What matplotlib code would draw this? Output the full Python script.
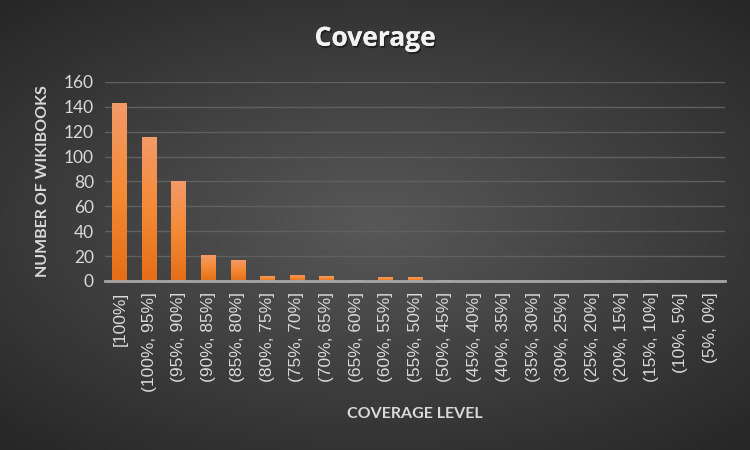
import numpy as np
import matplotlib
matplotlib.use("Agg")
from matplotlib import pyplot as plt
from matplotlib.colors import LinearSegmentedColormap
import matplotlib.patheffects as pe

levels = ["[100%]", "(100%, 95%]", "(95%, 90%]", "(90%, 85%]", "(85%, 80%]",
          "(80%, 75%]", "(75%, 70%]", "(70%, 65%]", "(65%, 60%]", "(60%, 55%]",
          "(55%, 50%]", "(50%, 45%]", "(45%, 40%]", "(40%, 35%]", "(35%, 30%]",
          "(30%, 25%]", "(25%, 20%]", "(20%, 15%]", "(15%, 10%]", "(10%, 5%]",
          "(5%, 0%]"]
counts = [143, 116, 80, 21, 17, 4, 5, 4, 1, 3, 3, 1, 0, 0, 0, 0, 1, 1, 1, 0, 0]

plt.rcParams['font.family'] = ['Lato', 'DejaVu Sans']

fig = plt.figure(figsize=(7.5, 4.5), dpi=100)

# radial background
bg = fig.add_axes([0, 0, 1, 1])
yy, xx = np.mgrid[-1:1:300j, -1:1:500j]
r = np.sqrt((xx * 0.9) ** 2 + (yy * 1.0) ** 2)
bg_cmap = LinearSegmentedColormap.from_list("bg", ["#585858", "#262626"])
bg.imshow(r, cmap=bg_cmap, vmin=0, vmax=1.35, aspect="auto", extent=[0, 1, 0, 1])
bg.set_axis_off()

ax = fig.add_axes([0.14, 0.3756, 0.827, 0.4422])
ax.patch.set_alpha(0)

x = np.arange(len(levels))
bars = ax.bar(x, counts, width=0.5, color="#F07F2A", zorder=3)

# orange gradient inside each bar
grad = np.linspace(0, 1, 100).reshape(-1, 1)
bar_cmap = LinearSegmentedColormap.from_list("bar", ["#E56E17", "#F58A35", "#F39A68"])
for b in bars:
    h = b.get_height()
    if h <= 0:
        continue
    im = ax.imshow(grad, cmap=bar_cmap, aspect="auto", origin="lower",
                   extent=[b.get_x(), b.get_x() + b.get_width(), 0, h], zorder=3)
    im.set_clip_path(b)

ax.set_xlim(-0.5, len(levels) - 0.5)
ax.set_ylim(0, 160)
ax.set_yticks(range(0, 161, 20))
ax.set_xticks(x)
ax.set_xticklabels(levels, rotation=90, fontsize=12.5, color="#D9D9D9",
                   family=['Liberation Sans', 'DejaVu Sans'])
ax.tick_params(axis="y", labelsize=12.5, colors="#D9D9D9", length=0, pad=8)
ax.tick_params(axis="x", length=0, pad=8)
ax.grid(axis="y", color="#606060", linewidth=1, zorder=0)
for s in ["top", "right", "left"]:
    ax.spines[s].set_visible(False)
ax.spines["bottom"].set_color("#A6A6A6")
ax.spines["bottom"].set_linewidth(2)
ax.spines["bottom"].set_zorder(4)

ax.set_ylabel("NUMBER OF WIKIBOOKS", fontsize=11.5, fontweight="bold", color="#D9D9D9", labelpad=10)
fig.text(0.553, 0.08, "COVERAGE LEVEL", ha="center", va="center",
         fontsize=11.5, fontweight="bold", color="#D9D9D9")
fig.text(0.5, 0.915, "Coverage", ha="center", va="center",
         fontsize=19, fontweight="bold", color="#F2F2F2",
         family=['Open Sans', 'DejaVu Sans'],
         path_effects=[pe.withSimplePatchShadow(offset=(1, -1.5), shadow_rgbFace="#111111", alpha=0.6),
                       pe.Normal()])

fig.savefig("out.png", dpi=100)
